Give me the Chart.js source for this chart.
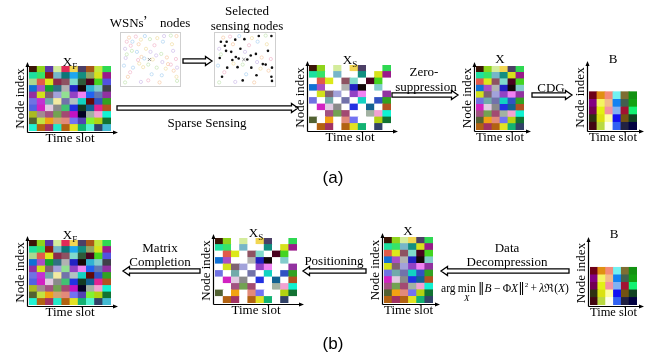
<!DOCTYPE html>
<html>
<head>
<meta charset="utf-8">
<script src="https://cdn.jsdelivr.net/npm/chart.js@4.4.1/dist/chart.umd.min.js"></script>
<style>
html, body { margin: 0; padding: 0; background: #fff; }
#stage { position: relative; width: 655px; height: 359px; overflow: hidden;
  font-family: "Liberation Serif", "Times New Roman", serif; color: #000; }
.box { position: absolute; }
.box canvas { display: block; }
.t { position: absolute; transform: translate(-50%, -50%); font-size: 13px; line-height: 1;
  white-space: nowrap; z-index: 3; }
.t sub { font-size: 9px; vertical-align: 0; position: relative; top: 3px; }
.cap { font-family: "Liberation Sans", Arial, sans-serif; font-size: 17px; }
.formula { font-size: 11.5px; }
.formula .lim { position: relative; display: inline-block; }
.formula .lim .under { position: absolute; left: 50%; top: 95%; transform: translateX(-50%); font-size: 9px; }
.formula sup { font-size: 7px; vertical-align: 0; position: relative; top: -5px; }
.formula .bar { font-family: "DejaVu Serif", serif; font-size: 13px; }
.cjk { font-family: "Noto Sans CJK SC", sans-serif; }
</style>
</head>
<body>
<div id="stage">
  <div class="box" id="bg" style="left:0;top:0;width:655px;height:359px;z-index:0"><canvas></canvas></div>

  <!-- (a) labels -->
  <div class="t" style="left:150px;top:22px">WSNs<span class="cjk">’</span> nodes</div>
  <div class="t" style="left:247px;top:10px">Selected</div>
  <div class="t" style="left:247px;top:25px">sensing nodes</div>
  <div class="t" style="left:70px;top:61px">X<sub>F</sub></div>
  <div class="t" style="left:350px;top:59px">X<sub>S</sub></div>
  <div class="t" style="left:500px;top:58px">X</div>
  <div class="t" style="left:613px;top:58px">B</div>
  <div class="t" style="left:207px;top:122px">Sparse Sensing</div>
  <div class="t" style="left:424px;top:71px">Zero-</div>
  <div class="t" style="left:426px;top:86px">suppression</div>
  <div class="t" style="left:551px;top:87px">CDG</div>
  <div class="t cap" style="left:333px;top:177px">(a)</div>

  <!-- (b) labels -->
  <div class="t" style="left:70px;top:234px">X<sub>F</sub></div>
  <div class="t" style="left:256px;top:232px">X<sub>S</sub></div>
  <div class="t" style="left:408px;top:230px">X</div>
  <div class="t" style="left:614px;top:233px">B</div>
  <div class="t" style="left:160px;top:247px">Matrix</div>
  <div class="t" style="left:160px;top:261px">Completion</div>
  <div class="t" style="left:334px;top:260px">Positioning</div>
  <div class="t" style="left:507px;top:247px">Data</div>
  <div class="t" style="left:507px;top:261px">Decompression</div>
  <div class="t formula" style="left:505px;top:288px">arg&thinsp;<span class="lim">min<span class="under"><i>X</i></span></span>&thinsp;<span class="bar">‖</span><i>B</i>&thinsp;−&thinsp;Φ<i>X</i><span class="bar">‖</span><sup>2</sup>&thinsp;+&thinsp;<i>λ</i>ℜ(<i>X</i>)</div>
  <div class="t cap" style="left:333px;top:343px">(b)</div>
</div>

<script>
// ---- data ----------------------------------------------------------------

// time-slot categories (columns of every matrix)
const timeSlots = ['t1', 't2', 't3', 't4', 't5', 't6', 't7', 't8', 't9', 't10'];

// full readings matrix X_F: one colour per (node, time slot), top row first
const fullColors = [
  ['#3b1608', '#8ed41c', '#5b36a8', '#d4ec9c', '#e02a58', '#f2d652', '#4c3f66', '#a8561a', '#c2e83e', '#2ed852'],
  ['#1ee0a0', '#36e468', '#8c1a12', '#76b6c8', '#0e7676', '#1ea6f0', '#128e80', '#90a466', '#d6e21c', '#9a1a8a'],
  ['#aad890', '#e25a4a', '#dce81a', '#8c2a4a', '#8e5262', '#80dacc', '#2f5a3a', '#4a0220', '#44d420', '#5252e0'],
  ['#1070d4', '#aa4ec4', '#12a032', '#2f7082', '#b2b2b2', '#2222c2', '#140808', '#32b2d2', '#82cccc', '#40404a'],
  ['#9230a2', '#d2e21a', '#806272', '#a2a2da', '#92e092', '#9242c4', '#f082f2', '#2262f2', '#6278b2', '#9232a0'],
  ['#7072e2', '#c232d2', '#72aaaa', '#f2eaa2', '#7272aa', '#b2c2c2', '#12d2c2', '#620a0a', '#3252c2', '#32a222'],
  ['#5262e2', '#d222c2', '#e2cae2', '#8a8a8a', '#42c272', '#2232e2', '#123a22', '#126292', '#e22292', '#b25222'],
  ['#aaba22', '#a28a92', '#a25282', '#72a252', '#a24a72', '#c212c2', '#020222', '#a2b2a2', '#f2a2d2', '#12f2d2'],
  ['#526232', '#c2e242', '#f2a212', '#d2a272', '#e28a7a', '#7272f2', '#5242b2', '#82f232', '#b2d212', '#127232'],
  ['#22f2d2', '#b26212', '#a23262', '#22eaca', '#b26212', '#e2e222', '#12b272', '#52f2d2', '#324268', '#42bad2']
];

// which entries the selected sensing nodes actually report (1 = sampled)
const sampleMask = [
  '1101011001',
  '1101001011',
  '0110110110',
  '1100111010',
  '0111011001',
  '1010101011',
  '0111010101',
  '0011100111',
  '1010110011',
  '0110111010'
];

// compressed measurement matrix B
const codeColors = [
  ['#6e0018', '#e09012', '#f48a7a', '#72f2f2', '#7e6e32', '#129212'],
  ['#820082', '#f4f462', '#f2ba8a', '#1282f2', '#42604e', '#12a212'],
  ['#720052', '#e2f212', '#f292a2', '#82b2f2', '#a21232', '#12f272'],
  ['#2e3212', '#dae212', '#fefea2', '#1212f2', '#725212', '#124222'],
  ['#420812', '#bada42', '#fefef2', '#3262f2', '#222242', '#020242']
];

// sensor field: node positions (percent of the field) and whether each is selected
const nodeX = [8, 18, 33, 49, 74, 96, 15, 26, 42, 17, 6, 34, 28, 39, 54, 69, 90, 81, 86, 19, 37, 61, 97, 10, 46, 70, 96, 97, 60,
               12, 24, 40, 62, 86, 5, 29, 57, 72, 88, 8, 50, 79, 95, 3, 30, 46, 71, 91, 14, 52, 77, 5, 33, 66];
const nodeY = [15, 15, 11, 10, 4, 4, 23, 35, 29, 33, 47, 45, 51, 48, 50, 39, 33, 59, 60, 66, 65, 66, 66, 84, 91, 81, 84, 92, 42,
               7, 5, 4, 8, 3, 29, 20, 22, 15, 20, 40, 35, 46, 49, 62, 58, 60, 55, 72, 75, 79, 68, 95, 94, 95];
const picked = [1, 1, 1, 1, 1, 1, 1, 1, 1, 1, 1, 1, 1, 1, 1, 1, 1, 1, 1, 1, 1, 1, 1, 1, 1, 1, 1, 1, 1,
                0, 0, 0, 0, 0, 0, 0, 0, 0, 0, 0, 0, 0, 0, 0, 0, 0, 0, 0, 0, 0, 0, 0, 0, 0];
// sink position
const sinkX = [48];
const sinkY = [50];

// ---- derived matrices -----------------------------------------------------
const sensedColors = fullColors.map((row, r) => row.map((c, k) => sampleMask[r][k] === '1' ? c : '#ffffff'));
const keptColors = fullColors.map((row, r) => row.filter((c, k) => sampleMask[r][k] === '1'));

// ---- layout (plot-area boxes in page pixels: left, top, right, bottom) -----
const matrixPanels = [
  { grid: fullColors,   area: [29, 66, 111, 131] },
  { grid: sensedColors, area: [309, 65, 391, 130] },
  { grid: keptColors,   area: [476, 66, 524, 130] },
  { grid: codeColors,   area: [589, 65, 637, 130], yMax: 8.5 },
  { grid: fullColors,   area: [29, 240, 111, 305] },
  { grid: sensedColors, area: [215, 238, 297, 303] },
  { grid: keptColors,   area: [384, 237, 433, 303] },
  { grid: codeColors,   area: [590, 241, 637, 305], yMax: 8.5 }
];
const fieldPanels = [
  { area: [120, 32, 181, 87], showPicked: false },
  { area: [214, 32, 276, 87], showPicked: true }
];
// hollow block arrows: [tail x, tip x, y]
const connectors = [
  [183, 212, 61],
  [117, 298, 108],
  [392, 458, 95],
  [532, 572, 95],
  [200, 123, 271],
  [366, 303, 271],
  [569, 441, 271]
];

const serif = 'Liberation Serif';
const paleTones = ['#f4c0d2', '#b6d8f4', '#f2e2b0', '#cce8bc', '#d6c6ee', '#f8d0b0'];
const stage = document.getElementById('stage');

// axis lines with arrowheads around each matrix
const axisArrows = {
  id: 'axisArrows',
  afterDraw(chart) {
    const { ctx, chartArea: a } = chart;
    const x0 = Math.round(a.left) - 1.5, y0 = Math.round(a.bottom) + 1.5;
    const top = a.top - 4, right = a.right + 7;
    ctx.save();
    ctx.strokeStyle = '#000';
    ctx.fillStyle = '#000';
    ctx.lineWidth = 1.2;
    ctx.beginPath();
    ctx.moveTo(x0, y0); ctx.lineTo(x0, top + 3);
    ctx.moveTo(x0, y0); ctx.lineTo(right - 3, y0);
    ctx.stroke();
    ctx.beginPath();
    ctx.moveTo(x0, top); ctx.lineTo(x0 - 2, top + 5); ctx.lineTo(x0 + 2, top + 5); ctx.closePath(); ctx.fill();
    ctx.beginPath();
    ctx.moveTo(right, y0); ctx.lineTo(right - 5, y0 - 2); ctx.lineTo(right - 5, y0 + 2); ctx.closePath(); ctx.fill();
    ctx.restore();
  }
};

// light frame around the sensor field
const fieldFrame = {
  id: 'fieldFrame',
  beforeDatasetsDraw(chart) {
    const { ctx, chartArea: a } = chart;
    ctx.save();
    ctx.strokeStyle = '#cfcfcf';
    ctx.lineWidth = 1;
    ctx.strokeRect(Math.round(a.left) + 0.5, Math.round(a.top) + 0.5,
                   Math.round(a.right - a.left) - 1, Math.round(a.bottom - a.top) - 1);
    ctx.restore();
  }
};

function makeBox(left, top, width, height) {
  const box = document.createElement('div');
  box.className = 'box';
  box.style.left = left + 'px';
  box.style.top = top + 'px';
  box.style.width = width + 'px';
  box.style.height = height + 'px';
  box.style.zIndex = 1;
  const cv = document.createElement('canvas');
  box.appendChild(cv);
  stage.appendChild(box);
  return cv;
}

function matrixChart(p) {
  const [l, t, r, b] = p.area;
  const YW = 16, XH = 15, PT = 6, PR = 9;
  const cv = makeBox(l - YW, t - PT, r - l + YW + PR, b - t + XH + PT);
  const rows = p.grid.length, cols = p.grid[0].length;
  const titleFont = { family: serif, size: 13 };
  new Chart(cv, {
    type: 'bar',
    data: {
      labels: timeSlots.slice(0, cols),
      // stacked bars build the grid from the bottom row upwards
      datasets: p.grid.slice().reverse().map(row => ({
        data: row.map(() => 1),
        backgroundColor: row,
        borderWidth: 0,
        barPercentage: 1,
        categoryPercentage: 1,
        inflateAmount: 0.4
      }))
    },
    options: {
      responsive: true,
      maintainAspectRatio: false,
      animation: false,
      events: [],
      layout: { autoPadding: false, padding: { top: PT, right: PR, left: 0, bottom: 0 } },
      plugins: { legend: { display: false }, tooltip: { enabled: false } },
      scales: {
        x: {
          stacked: true,
          grid: { display: false },
          border: { display: false },
          ticks: { display: false },
          title: { display: true, text: 'Time slot', font: titleFont, color: '#000', padding: 0 },
          afterFit: s => { s.height = XH; }
        },
        y: {
          stacked: true,
          min: 0,
          max: p.yMax || rows,
          grid: { display: false },
          border: { display: false },
          ticks: { display: false },
          title: { display: true, text: 'Node index', font: titleFont, color: '#000', padding: 0 },
          afterFit: s => { s.width = YW; }
        }
      }
    },
    plugins: [axisArrows]
  });
}

function fieldChart(p) {
  const [l, t, r, b] = p.area;
  const cv = makeBox(l, t, r - l, b - t);
  const all = nodeX.map((x, k) => ({ x, y: nodeY[k], k }));
  const idle = p.showPicked ? all.filter(d => !picked[d.k]) : all;
  const chosen = p.showPicked ? all.filter(d => picked[d.k]) : [];
  new Chart(cv, {
    type: 'scatter',
    data: {
      datasets: [
        {
          data: idle,
          pointStyle: 'circle',
          pointRadius: 1.6,
          borderWidth: 0.8,
          backgroundColor: 'rgba(0,0,0,0)',
          borderColor: c => paleTones[(c.raw ? c.raw.k : 0) % paleTones.length]
        },
        {
          data: chosen,
          pointStyle: 'circle',
          pointRadius: 1.3,
          borderWidth: 0,
          backgroundColor: '#111'
        },
        {
          data: sinkX.map((x, k) => ({ x, y: sinkY[k] })),
          pointStyle: 'crossRot',
          pointRadius: 2.2,
          borderWidth: 0.8,
          borderColor: '#777'
        }
      ]
    },
    options: {
      responsive: true,
      maintainAspectRatio: false,
      animation: false,
      events: [],
      layout: { autoPadding: false, padding: 0 },
      plugins: { legend: { display: false }, tooltip: { enabled: false } },
      scales: {
        x: { type: 'linear', display: false, min: -4, max: 104 },
        y: { type: 'linear', display: false, min: -4, max: 104, reverse: true }
      }
    },
    plugins: [fieldFrame]
  });
}

// background layer carrying the hollow process arrows
new Chart(document.querySelector('#bg canvas'), {
  type: 'scatter',
  data: { datasets: [] },
  options: {
    responsive: true,
    maintainAspectRatio: false,
    animation: false,
    events: [],
    layout: { autoPadding: false },
    plugins: { legend: { display: false }, tooltip: { enabled: false } },
    scales: { x: { display: false }, y: { display: false } }
  },
  plugins: [{
    id: 'connectors',
    afterDraw(chart) {
      const ctx = chart.ctx;
      const sh = 2.2, hh = 4.6, hl = 6.5;
      ctx.save();
      ctx.lineWidth = 1.3;
      ctx.strokeStyle = '#000';
      ctx.fillStyle = '#fff';
      connectors.forEach(([x1, x2, y]) => {
        const dir = Math.sign(x2 - x1);
        const xb = x2 - dir * hl;
        ctx.beginPath();
        ctx.moveTo(x1, y - sh);
        ctx.lineTo(xb, y - sh);
        ctx.lineTo(xb, y - hh);
        ctx.lineTo(x2, y);
        ctx.lineTo(xb, y + hh);
        ctx.lineTo(xb, y + sh);
        ctx.lineTo(x1, y + sh);
        ctx.closePath();
        ctx.fill();
        ctx.stroke();
      });
      ctx.restore();
    }
  }]
});

matrixPanels.forEach(matrixChart);
fieldPanels.forEach(fieldChart);
</script>
</body>
</html>
